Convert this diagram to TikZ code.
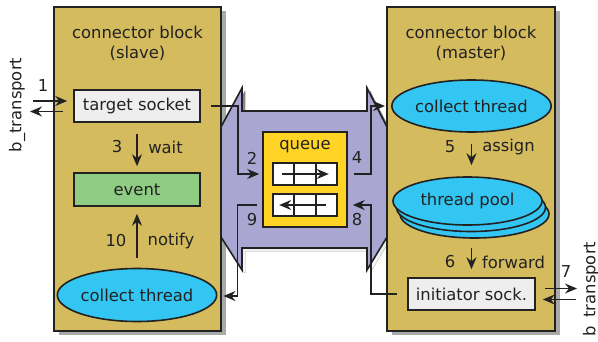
\documentclass[tikz,border=0pt]{standalone}
\usepackage{fontspec}
\setmainfont{DejaVu Sans}
\usetikzlibrary{arrows.meta,shapes.geometric,shadows,calc}
\definecolor{ink}{HTML}{222222}
\definecolor{gold}{HTML}{D3BB5E}
\definecolor{lilac}{HTML}{AAA6D2}
\definecolor{shade}{HTML}{A9A9A9}
\definecolor{qyellow}{HTML}{FFD424}
\definecolor{cyanfill}{HTML}{33C6F2}
\definecolor{evgreen}{HTML}{8FCC84}
\definecolor{sockgray}{HTML}{EEEEEE}
\tikzset{
  blockbox/.style={draw=ink, line width=2pt, fill=gold, inner sep=0pt,
    general shadow={fill=shade, shadow xshift=4.5pt, shadow yshift=-4pt}},
  sockbox/.style={draw=ink, line width=1.6pt, fill=sockgray, inner sep=0pt},
  evbox/.style={draw=ink, line width=1.6pt, fill=evgreen, inner sep=0pt},
  thr/.style={ellipse, draw=ink, line width=1.6pt, fill=cyanfill, inner sep=0pt},
  qbox/.style={draw=ink, line width=1.6pt, fill=qyellow, inner sep=0pt},
  slot/.style={draw=ink, line width=1.6pt, fill=white, inner sep=0pt},
  lbl/.style={text=ink, inner sep=0pt},
  arr/.style={draw=ink, line width=1.5pt, -{Stealth[length=12pt,width=10pt,inset=4pt]}},
}
\begin{document}
\begin{tikzpicture}[x=1pt,y=-1pt, font=\fontsize{16.4}{20}\selectfont]
\useasboundingbox (0,0) rectangle (598,341);

% left block
\node[blockbox, minimum width=167pt, minimum height=324pt] (lb) at (137.5,169) {};
\node[lbl, align=center] (lbt) at (137.5,43) {connector block\\(slave)};

% middle bridge shape
\fill[shade] (224,130) -- (245,91) -- (245,114) -- (370,114) -- (370,91) -- (390,130)
  -- (390,240) -- (370,273) -- (370,251) -- (245,251) -- (245,273) -- (224,240) -- cycle;
\draw[ink, line width=1.6pt, fill=lilac] (221,127) -- (242,88) -- (242,111) -- (367,111)
  -- (367,88) -- (387,127) -- (387,237) -- (367,270) -- (367,248) -- (242,248)
  -- (242,270) -- (221,237) -- cycle;

% right block
\node[blockbox, minimum width=168pt, minimum height=324pt] (rb) at (471,169) {};
\node[lbl, align=center] (rbt) at (471,43) {connector block\\(master)};

% left contents
\node[sockbox, minimum width=126pt, minimum height=32pt] (ts) at (137,106) {\color{ink}target socket};
\node[evbox, minimum width=126pt, minimum height=33pt] (ev) at (137,189.5) {\color{ink}event};
\node[thr, minimum width=147pt, minimum height=53pt] (ctl) at (137,295) {\color{ink}collect thread};

% right contents
\node[thr, minimum width=147pt, minimum height=52pt] (ctm) at (471.5,106) {\color{ink}collect thread};
\node[thr, minimum width=149pt, minimum height=48pt] (tpb2) at (474.5,214) {};
\node[thr, minimum width=149pt, minimum height=48pt] (tpb1) at (471,207.5) {};
\node[thr, minimum width=149pt, minimum height=48pt] (tp) at (467.5,201) {\color{ink}thread pool};
\node[sockbox, minimum width=127pt, minimum height=32pt] (is) at (471.5,294) {\color{ink}initiator sock.};

% queue
\node[qbox, minimum width=84pt, minimum height=95pt] (q) at (305,179.5) {};
\node[lbl] (qt) at (305,147) {queue};
\node[slot, minimum width=64pt, minimum height=22pt] (q1) at (305,174) {};
\node[slot, minimum width=64pt, minimum height=22pt] (q2) at (305,205) {};
\foreach \s in {q1,q2}{
  \draw[ink, line width=1.6pt] ($(\s.north west)!1/3!(\s.north east)$) -- ($(\s.south west)!1/3!(\s.south east)$);
  \draw[ink, line width=1.6pt] ($(\s.north west)!2/3!(\s.north east)$) -- ($(\s.south west)!2/3!(\s.south east)$);
}
\draw[arr, shorten <=10pt, shorten >=9pt] (q1.west) -- (q1.east);
\draw[arr, shorten <=12pt, shorten >=7pt] (q2.east) -- (q2.west);

% vertical arrows
\draw[arr, shorten <=11pt, shorten >=6pt] (ts) -- (ev);
\node[lbl] (n3) at (117,147) {3};
\node[lbl] (nwait) at (165.5,147) {wait};
\draw[arr, shorten <=10pt, shorten >=7pt] (ctl) -- (ev);
\node[lbl] (n10) at (116,241) {10};
\node[lbl] (nnotify) at (171,241) {notify};
\draw[arr, shorten <=11pt, shorten >=11pt] (ctm) -- (ctm.south |- tp.north);
\node[lbl] (n5) at (450,147) {5};
\node[lbl] (nassign) at (508.5,147) {assign};
\draw[arr, shorten <=9pt, shorten >=8pt] (tpb2.south -| is.north) -- (is.north);
\node[lbl] (n6) at (450,262) {6};
\node[lbl] (nforward) at (513.5,262) {forward};

% b_transport left
\coordinate (b1a) at (33,101);
\coordinate (b1b) at (30,111.5);
\draw[arr, shorten >=6pt] (b1a) -- (ts.west |- b1a);
\draw[arr, shorten <=10pt] (ts.west |- b1b) -- (b1b);
\node[lbl] (n1) at (43,86) {1};
\node[lbl, rotate=90] (btl) at (17,105) {b\_transport};

% b_transport right
\coordinate (b7a) at (577,288.5);
\coordinate (b7b) at (576,299.5);
\draw[arr, shorten <=9pt] (is.east |- b7a) -- (b7a);
\draw[arr, shorten >=7pt] (b7b) -- (is.east |- b7b);
\node[lbl] (n7) at (566,272) {7};
\node[lbl, rotate=90] (btr) at (591,289) {b\_transport};

% connectors through the bridge
\coordinate (c2) at (238,174);
\coordinate (c4) at (371,106);
\coordinate (c8) at (371,205);
\coordinate (c9) at (237.5,296);
\draw[arr, shorten <=10pt, shorten >=3pt] (ts.east) -| (c2) -- (q.west |- q1.center);
\draw[arr, shorten <=6pt, shorten >=6pt] (q.east |- q1.center) -| (c4) -- (ctm.west);
\draw[arr, shorten <=10pt, shorten >=5pt] (is.west) -| (c8) -- (q.east |- q2.center);
\draw[arr, shorten <=5pt, shorten >=6pt] (q.west |- q2.center) -| (c9) -- (ctl.east |- c9);
\node[lbl] (n2) at (252,158) {2};
\node[lbl] (n4) at (357,158) {4};
\node[lbl] (n8) at (357,220) {8};
\node[lbl] (n9) at (252,220) {9};
\end{tikzpicture}
\end{document}
